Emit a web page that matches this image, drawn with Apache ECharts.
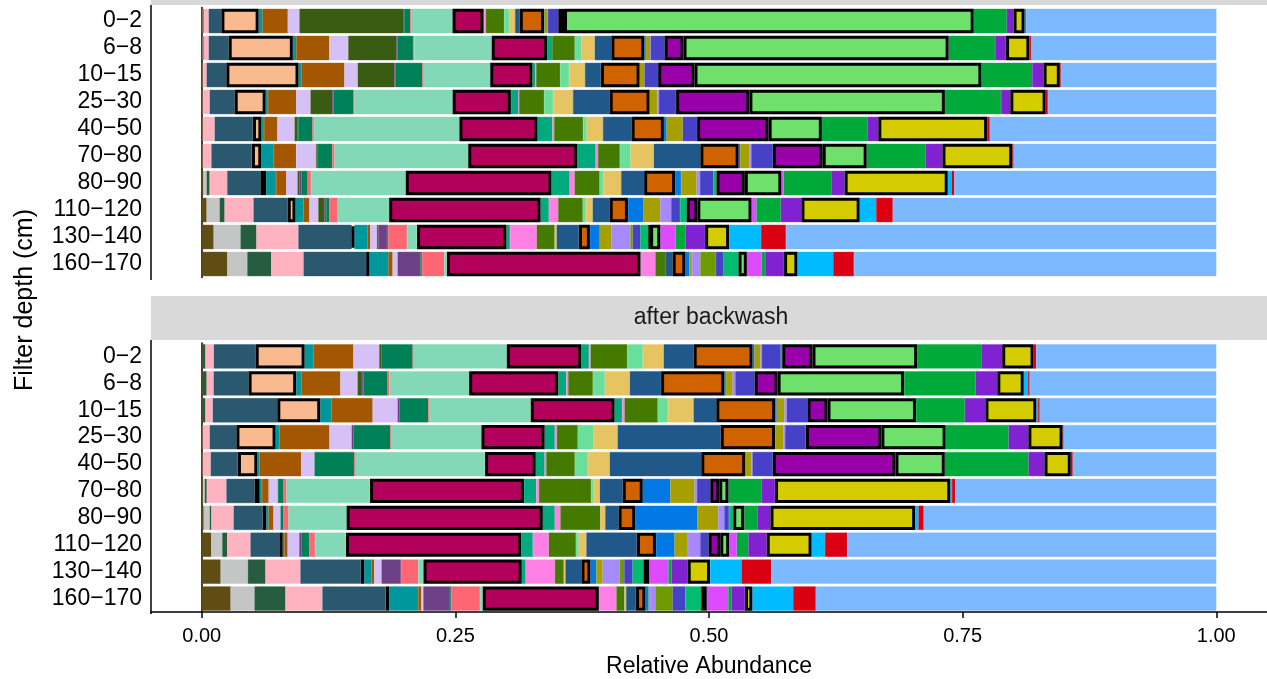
<!DOCTYPE html>
<html>
<head>
<meta charset="utf-8">
<script src="https://cdn.jsdelivr.net/npm/echarts@6/dist/echarts.min.js"></script>
<style>
html, body { margin: 0; padding: 0; background: #fff; }
#chart { width: 1267px; height: 679px; }
</style>
</head>
<body>
<div id="chart"></div>
<script>
const depths = ['0−2', '6−8', '10−15', '25−30', '40−50', '70−80', '80−90', '110−120', '130−140', '160−170']
const tickValues = [0, 0.25, 0.5, 0.75, 1]
const tickLabels = ['0.00', '0.25', '0.50', '0.75', '1.00']
const panels = ['before backwash', 'after backwash']

// one colour per taxon, in stacking order (left to right)
const taxonColors = [
  '#604D14', '#C4C6C6', '#265D40', '#FFB3C1', '#2A586E', '#F8BA8E', '#00979C', '#A35700',
  '#D5C1F5', '#3A5B12', '#6E4086', '#008056', '#FF6674', '#83D9B7', '#B3005A', '#00AA7D',
  '#FF80E5', '#447A00', '#6ADE9B', '#E6C462', '#205889', '#D06300', '#0079E5', '#A5A000',
  '#A68AFB', '#6F9A00', '#4641C7', '#00BC70', '#9A00A9', '#6FE06B', '#DC4BFF', '#00AA3A',
  '#8022D2', '#D5CC00', '#00BBFF', '#DA0012', '#7DB9FF'
]
// taxa drawn with a black outline
const outlined = [5, 14, 21, 28, 29, 33]

// relative abundance in %, one row per depth, one value per taxon
const beforeRows = [
  [0.10,0.07,0.06,0.46,1.25,3.67,0.39,2.49,1.15,10.26,0.05,0.61,0.13,4.03,3.05,0.07,0.17,1.80,0.49,0.59,0.46,2.39,0.05,0.28,0.05,0,1.03,0,0.56,40.38,0,3.27,0.66,1.08,0.08,0.08,18.75],
  [0.10,0.05,0.05,0.49,1.97,6.32,0.33,3.27,1.87,4.75,0.10,1.54,0.10,7.64,5.47,0.49,0,2.23,0.66,1.31,1.64,3.24,0.16,0.43,0.05,0,1.36,0,1.87,26.13,0,4.58,1.08,2.30,0.05,0.15,18.22],
  [0.10,0,0,0.39,1.94,7.11,0.27,4.26,1.31,3.61,0.13,2.63,0.13,6.56,4.16,0.27,0.10,2.36,0.88,1.57,1.57,3.81,0,0.49,0,0,1.34,0,3.58,28.28,0,5.01,1.12,1.60,0,0.10,15.34],
  [0.10,0,0,0.69,2.46,3.05,0.23,2.79,1.41,2.13,0.10,2.00,0.10,9.67,5.74,0.75,0.07,2.46,0.88,1.97,3.61,3.93,0,0.75,0.17,0,1.70,0,7.22,19.27,0,5.54,0.91,3.48,0,0.23,16.59],
  [0.10,0,0,1.18,3.77,0.83,0.26,1.32,1.70,0.27,0.06,1.42,0.16,14.33,7.70,1.47,0.17,2.85,0.36,1.60,2.82,3.18,0.27,1.60,0,0,1.41,0,7.05,5.24,0,4.49,1.08,10.72,0,0.27,22.32],
  [0.10,0,0,0.86,3.99,0.92,1.24,2.20,1.97,0.16,0,1.42,0.23,13.18,10.75,1.81,0.23,2.16,1.05,2.29,4.59,3.77,0.17,0.88,0.20,0,2.12,0,4.92,4.33,0,5.80,1.67,6.88,0,0.14,19.97],
  [0.17,0.32,0.29,1.74,3.27,0.56,0.98,1.01,1.11,0.17,0.23,0.59,0.33,9.34,14.36,1.80,0.49,2.46,0.39,1.74,2.26,3.05,0.59,1.53,0.33,0,1.31,0.32,2.79,3.60,0.24,4.68,1.32,10.16,0.39,0.27,25.81],
  [0.49,1.28,0.49,2.85,3.37,0.76,0.82,0.56,0.88,0.59,0.17,0.32,0.82,5.08,14.92,0.82,0.91,2.43,0.32,0.66,1.67,1.80,1.54,1.64,1.08,0,0.88,0.65,1.05,5.34,0.49,2.40,2.03,5.74,1.63,1.64,31.88],
  [1.18,2.65,1.57,4.13,5.24,0.27,1.31,0.27,0.66,0.13,0.86,0.13,1.84,0.98,8.81,0.36,2.63,1.77,0,0.20,2.19,1.08,0.98,1.15,1.87,0.23,0.75,0.91,0.05,1.00,1.53,0.98,1.91,2.36,3.15,2.46,42.41],
  [2.53,1.97,2.36,3.18,6.17,0.32,1.87,0.42,0.49,0,2.23,0.17,2.19,0.27,19.08,0,1.47,0.98,0,0,0.72,1.25,0.39,0.26,0.83,1.53,0.76,1.47,0,0.82,1.47,0.33,1.87,1.31,3.54,2.04,35.71]
]
const afterRows = [
  [0.10,0,0.27,0.82,4.13,4.82,0.91,3.90,2.56,0.23,0,3.05,0.10,9.18,7.34,0.76,0.17,3.60,1.54,2.06,2.95,5.80,0.20,0.59,0.13,0,1.87,0.14,2.98,10.32,0,6.32,2.06,3.09,0,0.26,17.75],
  [0.10,0,0.39,0.69,3.44,4.69,0.55,3.81,1.70,0.43,0.13,2.39,0.17,7.87,8.78,0.79,0.20,2.43,1.18,2.46,3.08,6.23,0.16,0.66,0.27,0,1.90,0,2.26,12.46,0,7.08,2.12,2.60,0.42,0.17,18.39],
  [0.10,0,0.27,0.72,6.36,4.23,1.14,4.03,2.46,0,0.17,2.85,0.13,9.97,8.26,0.75,0.24,3.27,1.01,2.53,2.23,5.80,0.16,0.76,0.23,0,2.04,0,1.97,8.72,0,4.82,2.03,5.01,0.17,0.17,17.40],
  [0.10,0,0,0.69,2.63,3.86,0.39,4.92,2.19,0,0.17,3.64,0.13,8.85,6.23,1.01,0.20,2.06,1.57,2.36,10.16,5.35,0,0.82,0.17,0,2.06,0,7.43,6.33,0,6.22,1.94,3.37,0,0.10,15.05],
  [0.10,0,0,0.79,2.68,1.91,0.23,4.10,1.31,0,0,3.93,0.13,12.75,4.99,0.88,0.16,2.82,1.28,2.16,9.02,4.33,0,0.59,0.13,0,2.00,0,12.09,4.86,0,8.26,1.57,2.59,0,0.20,14.14],
  [0.13,0.17,0.20,1.94,2.78,0.49,0.23,0.66,0.91,0,0,0.56,0.29,8.23,15.17,1.21,0.27,5.14,0.27,0.59,2.26,1.97,2.72,2.39,0.23,0,1.32,0,0.88,0.91,0,3.27,1.32,17.27,0.17,0.32,25.73],
  [0.20,0.59,0.17,2.19,2.88,0.33,0.23,0.49,0.69,0,0,0.29,0.49,5.73,19.34,1.18,0.56,3.93,0,0.49,1.31,1.64,6.13,2.06,0.59,0,0.46,0.42,0,1.08,0,1.31,1.28,14.26,0.33,0.52,28.83],
  [0.95,1.08,0.49,2.29,2.85,0.32,0.17,0.32,1.15,0,0.23,0.76,0.56,3.05,17.27,1.15,1.57,2.68,0.27,0.76,4.98,1.87,1.84,1.31,1.22,0,0.82,0,1.15,0.88,0.75,1.15,1.80,4.42,1.32,2.19,36.38],
  [1.87,2.68,1.74,3.44,5.97,0.32,0.72,0.27,0.72,0,1.91,0,1.70,0.52,9.68,0.39,2.88,0.88,0,0.17,1.57,0.88,0.59,0.62,1.67,0.46,0.82,1.08,0,0.56,1.90,0.32,1.57,2.20,3.11,2.92,43.87],
  [2.85,2.36,3.05,3.64,6.26,0.32,2.85,0.32,0.20,0,2.63,0.13,2.82,0.27,11.44,0,1.74,0.79,0,0.16,0.98,0.92,0.32,0.13,0.53,1.70,1.25,1.57,0,0.55,2.13,0.32,1.32,0.72,4.03,2.23,39.47]
]

const chart = echarts.init(document.getElementById('chart'))

const panelLeft = 151
const panelWidth = 1119
const font = 'Liberation Sans'

function buildSeries(rows, idx) {
  return taxonColors.map((color, t) => {
    const boxed = outlined.includes(t)
    return {
      type: 'bar',
      stack: 'panel' + idx,
      xAxisIndex: idx,
      yAxisIndex: idx,
      barCategoryGap: '10%',
      z: boxed ? 3 : 2,
      silent: true,
      itemStyle: boxed
        ? { color: color, borderColor: '#000', borderWidth: 3 }
        : { color: color, borderColor: color, borderWidth: 0.4 },
      data: rows.map(r => (r[t] > 0 ? r[t] / 100 : '-'))
    }
  })
}

function yAxis(idx) {
  return {
    type: 'category',
    gridIndex: idx,
    data: depths,
    inverse: true,
    axisLine: { lineStyle: { color: '#000', width: 1.5 } },
    axisTick: { length: 5, interval: 0, alignWithLabel: true, lineStyle: { color: '#000', width: 1.5 } },
    axisLabel: { interval: 0, color: '#000', fontSize: 23, fontFamily: font, margin: 9 }
  }
}

chart.setOption({
  animation: false,
  grid: [
    { left: panelLeft, top: 7.5, width: panelWidth, height: 270 },
    { left: panelLeft, top: 343, width: panelWidth, height: 270 }
  ],
  xAxis: [
    {
      type: 'value', gridIndex: 0, min: -0.05, max: 1.05,
      axisLine: { show: false }, axisTick: { show: false },
      axisLabel: { show: false }, splitLine: { show: false }
    },
    {
      type: 'value', gridIndex: 1, min: -0.05, max: 1.05,
      axisLine: { show: true, lineStyle: { color: '#000', width: 1.5 } },
      axisTick: { show: true, customValues: tickValues, length: 6, lineStyle: { color: '#000', width: 1.5 } },
      axisLabel: {
        customValues: tickValues, color: '#000', fontSize: 20, fontFamily: font, margin: 14,
        formatter: v => tickLabels[tickValues.indexOf(v)]
      },
      splitLine: { show: false },
      name: 'Relative Abundance', nameLocation: 'middle', nameGap: 43,
      nameTextStyle: { color: '#000', fontSize: 23, fontFamily: font }
    }
  ],
  yAxis: [yAxis(0), yAxis(1)],
  graphic: [
    { type: 'rect', shape: { x: panelLeft, y: -40, width: 1200, height: 45 }, style: { fill: '#D9D9D9' }, z: 0 },
    { type: 'text', x: 711, y: -18, style: { text: panels[0], fill: '#1a1a1a', font: '23px ' + font, align: 'center', verticalAlign: 'middle' } },
    { type: 'rect', shape: { x: panelLeft, y: 296, width: 1200, height: 44 }, style: { fill: '#D9D9D9' }, z: 0 },
    { type: 'text', x: 711, y: 318, style: { text: panels[1], fill: '#1a1a1a', font: '23px ' + font, align: 'center', verticalAlign: 'middle' } },
    // left panel borders run the full panel height, as in the original
    { type: 'line', shape: { x1: panelLeft, y1: 5, x2: panelLeft, y2: 280 }, style: { stroke: '#000', lineWidth: 1.5 }, z: 10 },
    { type: 'line', shape: { x1: panelLeft, y1: 340, x2: panelLeft, y2: 614 }, style: { stroke: '#000', lineWidth: 1.5 }, z: 10 },
    { type: 'text', x: 25, y: 300, rotation: Math.PI / 2, style: { text: 'Filter depth (cm)', fill: '#000', font: '25px ' + font, align: 'center', verticalAlign: 'middle' } }
  ],
  series: buildSeries(beforeRows, 0).concat(buildSeries(afterRows, 1))
})
</script>
</body>
</html>
